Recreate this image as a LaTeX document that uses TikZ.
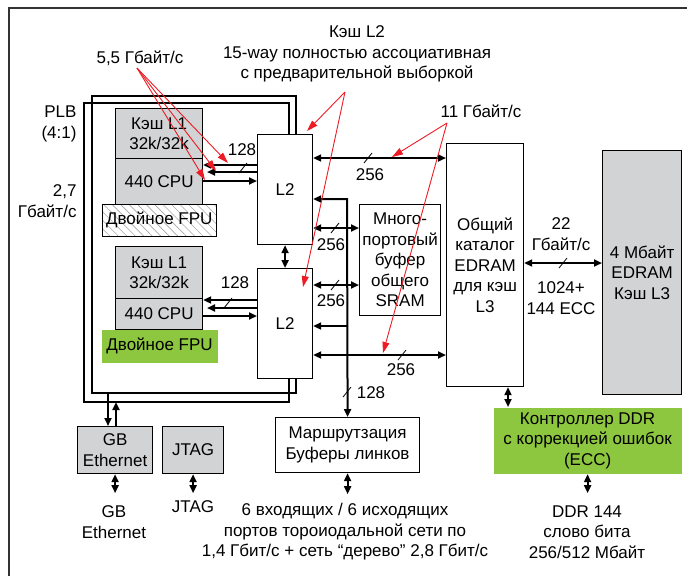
\documentclass[tikz,border=0pt]{standalone}
\usepackage{fontspec}
\setmainfont{Liberation Sans}
\usetikzlibrary{arrows.meta,patterns.meta}

\definecolor{fpugreen}{RGB}{141,198,63}
\definecolor{boxgray}{RGB}{210,211,213}
\definecolor{notered}{RGB}{237,28,36}

\tikzset{
  box/.style={draw, line width=1.2pt, anchor=north west, inner sep=0pt, align=center},
  bus/.style={line width=2pt},
  redarrow/.style={draw=notered, line width=0.9pt, -{Triangle[length=11pt,width=7pt]}},
  plb/.style={line width=1.5pt}
}

\begin{document}
\begin{tikzpicture}[x=1pt,y=-1pt, >={Triangle[length=8pt,width=7pt]},
    font=\fontsize{17}{20.5}\selectfont]
  \useasboundingbox (0,0) rectangle (687,576);
  \draw[line width=1.5pt, black!80] (9,576) -- (9,8) -- (687,8);

  % PLB frames
  \draw[plb] (296,134) -- (296,96) -- (92,96) -- (92,393) -- (296,393) -- (296,378);
  \draw[plb] (289,134) -- (289,103) -- (84,103) -- (84,402) -- (289,402) -- (289,378);
  \node[anchor=east, align=right] (plbtxt) at (80,124) {PLB\\(4:1)};
  \node[anchor=east, align=right] (plbrate) at (80,201) {2,7\\Гбайт/с};

  % processor cores
  \node[box, fill=boxgray, minimum width=87, minimum height=50] (cacheA) at (115,108) {Кэш L1\\32k/32k};
  \node[box, fill=boxgray, minimum width=87, minimum height=46] (cpuA) at (115,158) {440 CPU};
  \node[box, line width=1pt, pattern={Lines[angle=-45,distance=6pt,line width=0.6pt]}, pattern color=black!35,
        minimum width=114, minimum height=32] (fpuA) at (102,204) {Двойное FPU};
  \node[box, fill=boxgray, minimum width=87, minimum height=52] (cacheB) at (115,246) {Кэш L1\\32k/32k};
  \node[box, fill=boxgray, minimum width=87, minimum height=31] (cpuB) at (115,298) {440 CPU};
  \node[box, draw=none, fill=fpugreen, minimum width=116, minimum height=33] (fpuB) at (101,329) {Двойное FPU};

  \node[box, fill=white, minimum width=55, minimum height=110] (l2a) at (257,134) {L2};
  \node[box, fill=white, minimum width=55, minimum height=110] (l2b) at (257,268) {L2};
  \node[box, minimum width=81, minimum height=111] (sram) at (359,204) {Много-\\портовый\\буфер\\общего\\SRAM};
  \node[box, minimum width=77, minimum height=243] (dir) at (446,143) {Общий\\каталог\\EDRAM\\для кэш\\L3};
  \node[box, fill=boxgray, minimum width=79, minimum height=244] (l3) at (602,150) {4 Мбайт\\EDRAM\\Кэш L3};
  \node[box, draw=none, fill=fpugreen, minimum width=188, minimum height=66] (ddr) at (493,407) {Контроллер DDR\\с коррекцией ошибок\\(ECC)};
  \node[box, minimum width=144, minimum height=55] (route) at (275,417) {Маршрутзация\\Буферы линков};
  \node[box, fill=boxgray, minimum width=75, minimum height=47] (gbe) at (77,426) {GB\\Ethernet};
  \node[box, fill=boxgray, minimum width=61, minimum height=47] (jtag) at (162,426) {JTAG};

  % core to L2
  \draw[bus,->] (l2a.west |- 0,165) -- (cpuA.east |- 0,165);
  \draw[bus,->] (l2a.west |- 0,172) -- (207,172);
  \draw[bus,->] (cpuA.east |- 0,181) -- (l2a.west |- 0,181);
  \draw[bus,->] (l2b.west |- 0,300) -- (cpuB.east |- 0,300);
  \draw[bus,->] (l2b.west |- 0,308) -- (207,308);
  \draw[bus,->] (cpuB.east |- 0,316) -- (l2b.west |- 0,316);
  \node (w128a) at (242,150) {128};
  \node (w128b) at (235,283) {128};

  % L2 buses
  \draw[bus,<->] (l2a.south) -- (l2b.north);
  \draw[bus,<->] (l2a.east |- 0,158) -- (dir.west |- 0,158);
  \draw[bus,<->] (l2a.east |- 0,228) -- (sram.west |- 0,228);
  \draw[bus,<->] (l2b.east |- 0,285) -- (sram.west |- 0,285);
  \draw[bus,<->] (l2b.east |- 0,355) -- (dir.west |- 0,355);
  \draw[bus,<->] (l2a.east |- 0,199) -- (347,199) -- (route.north);
  \draw[bus,->] (347,326) -- (l2b.east |- 0,326);
  \draw[bus,<->] (dir.east |- 0,263) -- (l3.west |- 0,263);
  \node (w256a) at (370,175) {256};
  \node (w256b) at (331,245) {256};
  \node (w256c) at (331,301) {256};
  \node (w256d) at (401,370) {256};
  \node (w128c) at (371,393) {128};
  \node[align=center] (r22) at (561,234) {22\\Гбайт/с};
  \node[align=center] (w1024) at (561,298) {1024+\\144 ECC};
  \foreach \p in {(243,168),(228,303),(368,158),(335,228),(335,285),(402,355),(347,392),(563,263)}
    \draw[line width=0.8pt] \p ++(-4,5) -- ++(8,-10);

  % external ports
  \draw[bus,<->] (dir.south -| 508,0) -- (ddr.north -| 508,0);
  \draw[bus,<->] (ddr.south) -- ++(0,19);
  \draw[bus,<->] (route.south) -- ++(0,21);
  \draw[bus,<->] (gbe.south) -- ++(0,19);
  \draw[bus,<->] (jtag.south) -- ++(0,19);
  \draw[bus,->] (108,393) -- (gbe.north -| 108,0);
  \draw[bus,->] (gbe.north -| 116,0) -- (116,402);
  \node[align=center] (gbtxt) at (114,522) {GB\\Ethernet};
  \node (jtagtxt) at (193,507) {JTAG};
  \node[align=center] (torus) at (345,532) {6 входящих / 6 исходящих\\портов тороиодальной сети по\\1,4 Гбит/с + сеть “дерево” 2,8 Гбит/с};
  \node[align=center] (ddrtxt) at (587,532) {DDR 144\\слово бита\\256/512 Мбайт};

  % callouts
  \node (bw55) at (140,58) {5,5 Гбайт/с};
  \node[align=center] (l2note) at (357,54) {Кэш L2\\15-way полностью ассоциативная\\с предварительной выборкой};
  \node (bw11) at (481,111) {11 Гбайт/с};
  \coordinate (from55) at (137,68);
  \coordinate (froml2) at (345,92);
  \coordinate (from11) at (447,123);
  \foreach \p in {(228,163),(216,171),(205,180)}
    \draw[redarrow] (from55) -- \p;
  \draw[redarrow] (froml2) -- (307,131);
  \draw[redarrow] (froml2) -- (303,287);
  \draw[redarrow] (from11) -- (392,157);
  \draw[redarrow] (from11) -- (383,353);
\end{tikzpicture}
\end{document}
